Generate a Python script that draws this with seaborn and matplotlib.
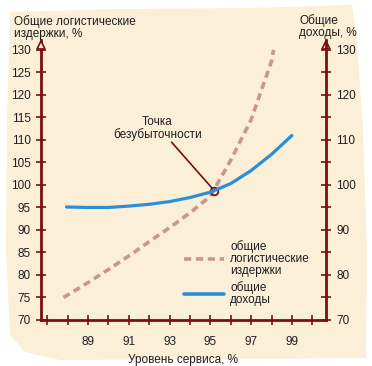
import numpy as np
import pandas as pd
import matplotlib
matplotlib.use("Agg")
import matplotlib.pyplot as plt
from matplotlib.patches import Polygon
from matplotlib.lines import Line2D
import seaborn as sns

# ---- data ----
cost_x = [87.8, 89, 90, 91, 92, 93, 94, 95, 96, 97, 98, 98.1]
cost_y = [75.0, 78.3, 81.2, 84.2, 87.4, 90.5, 93.8, 97.5, 105.5, 114.5, 127.5, 130.0]
rev_x = [87.95, 89, 90, 91, 92, 93, 94, 95, 96, 97, 98, 99]
rev_y = [95.1, 95.0, 95.0, 95.3, 95.7, 96.3, 97.2, 98.4, 100.3, 103.2, 106.8, 111.0]
breakeven = (95.2, 98.7)
x_ticks = list(range(87, 101))
x_labels = [str(t) if (t % 2 == 1 and 89 <= t <= 99) else "" for t in x_ticks]
left_ticks = list(range(70, 131, 5))
right_major = list(range(70, 131, 10))
right_minor = list(range(75, 131, 10))

left_title = "Общие логистические\nиздержки, %"
right_title = "Общие\nдоходы, %"
x_title = "Уровень сервиса, %"
point_label = "Точка\nбезубыточности"
cost_label = "общие\nлогистические\nиздержки"
rev_label = "общие\nдоходы"

sns.set_theme(style="white")
plt.rcParams['font.family'] = ['Liberation Sans', 'DejaVu Sans']

BG = "#fcefd8"
AX = "#7a0f0f"
COST = "#c9978b"
REV = "#2b8fd8"
TXT = "#1e1e1e"
FS = 8.5

W, H = 372, 366
fig = plt.figure(figsize=(W / 100, H / 100), dpi=100, facecolor="white")

# paper background
bg = fig.add_axes([0, 0, 1, 1], zorder=-10)
bg.set_xlim(0, W)
bg.set_ylim(H, 0)
bg.axis("off")
poly_px = [(10, 12), (120, 9), (250, 8), (352, 5), (357, 40), (363, 130), (367, 250),
           (366, 358), (60, 360), (25, 352), (10, 335), (6, 250), (7, 120)]
bg.add_patch(Polygon(poly_px, closed=True, facecolor=BG, edgecolor="none"))

ax = fig.add_axes([41 / W, 1 - 320 / H, 285 / W, 280 / H], zorder=1)
ax.set_facecolor("none")
ax.set_xlim(86.7, 100.67)
ax.set_ylim(70, 132.2)

df_cost = pd.DataFrame({"x": cost_x, "y": cost_y})
df_rev = pd.DataFrame({"x": rev_x, "y": rev_y})

sns.lineplot(data=df_cost, x="x", y="y", ax=ax, color=COST, lw=2.6,
             sort=True, estimator=None)
ax.lines[-1].set_linestyle((0, (2.0, 1.3)))
ax.lines[-1].set_dash_capstyle("butt")

ax2 = ax.twinx()
ax2.set_facecolor("none")
ax2.set_ylim(70, 132.2)
sns.lineplot(data=df_rev, x="x", y="y", ax=ax2, color=REV, lw=2.3,
             sort=True, estimator=None)
ax2.set_xlim(86.7, 100.67)

# spines
for a in (ax, ax2):
    for s in a.spines.values():
        s.set_visible(False)
ax.spines['left'].set_visible(True)
ax.spines['bottom'].set_visible(True)
ax2.spines['right'].set_visible(True)
for s in (ax.spines['left'], ax.spines['bottom'], ax2.spines['right']):
    s.set_color(AX)
    s.set_linewidth(2.0)

ax.set_xticks(x_ticks)
ax.set_xticklabels(x_labels)
ax.set_yticks(left_ticks)
ax.set_yticklabels([str(t) for t in left_ticks])
ax.tick_params(axis='both', direction='inout', length=7, width=1.2, color=AX,
               labelsize=FS, labelcolor=TXT, pad=4, left=True, bottom=True)
ax.tick_params(axis='x', pad=8)
ax.set_xlabel(x_title, fontsize=FS, color=TXT, labelpad=4)
ax.set_ylabel("")
ax2.set_ylabel("")

ax2.set_yticks(right_major)
ax2.set_yticklabels([str(t) for t in right_major])
ax2.set_yticks(right_minor, minor=True)
ax2.tick_params(axis='y', which='major', direction='inout', length=7, width=1.2,
                color=AX, labelsize=FS, labelcolor=TXT, pad=4, right=True)
ax2.tick_params(axis='y', which='minor', direction='inout', length=7, width=1.2,
                color=AX, right=True)

# arrowheads on vertical axes
for xv in (86.7, 100.67):
    ax.plot([xv], [131.0], marker="^", markersize=6, markerfacecolor=BG,
            markeredgecolor=AX, markeredgewidth=1.2, clip_on=False, zorder=5)

# axis titles
fig.text(14 / W, 1 - 15 / H, left_title, fontsize=FS, color=TXT, ha="left", va="top",
         linespacing=1.0)
fig.text(299 / W, 1 - 14 / H, right_title, fontsize=FS, color=TXT, ha="left", va="top",
         linespacing=1.0)

# break-even annotation
ax.annotate("", xy=breakeven, xytext=(93.1, 109.5),
            arrowprops=dict(arrowstyle="-", color=AX, lw=1.2, shrinkA=0, shrinkB=2))
ax.text(92.4, 112.6, point_label, fontsize=FS, color=TXT, ha="center", va="center",
        linespacing=1.0)
ax.plot([breakeven[0]], [breakeven[1]], marker="o", markersize=5.5,
        markerfacecolor="none", markeredgecolor=AX, markeredgewidth=1.3, zorder=6)

# legend
h1 = Line2D([], [], color=COST, lw=2.6, linestyle=(0, (2.0, 1.3)))
h2 = Line2D([], [], color=REV, lw=2.6)
leg = ax2.legend([h1, h2], [cost_label, rev_label], loc="upper left",
                 bbox_to_anchor=((184 - 41) / 285, (320 - 240) / 280),
                 borderaxespad=0, borderpad=0,
                 frameon=False, fontsize=FS, handlelength=3.4, handletextpad=0.5,
                 labelspacing=0.35)
for t in leg.get_texts():
    t.set_color(TXT)
    t.set_linespacing(1.0)

fig.savefig("out.png", dpi=100, facecolor="white")
